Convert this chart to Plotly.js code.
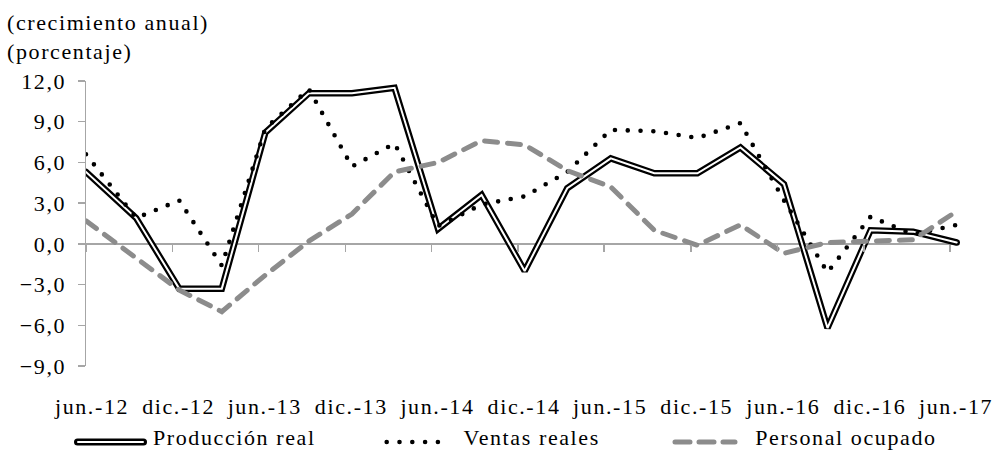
<!DOCTYPE html>
<html><head><meta charset="utf-8">
<script src="https://cdn.plot.ly/plotly-3.0.1.min.js"></script>
<style>
html,body{margin:0;padding:0;background:#fff;}
#chart svg text{letter-spacing:1.6px;}
#chart .scatterlayer .js-line{stroke-linecap:round;}
#chart .shapelayer path{stroke-linecap:round;}
</style></head><body>
<div id="chart" style="width:999px;height:451px"></div>
<script>
// ---- data ----
const periods = ['2012-06-01','2012-09-15','2012-12-15','2013-03-15','2013-06-15','2013-09-15','2013-12-15',
  '2014-03-15','2014-06-15','2014-09-15','2014-12-15','2015-03-15','2015-06-15','2015-09-15','2015-12-15',
  '2016-03-15','2016-06-15','2016-09-15','2016-12-15','2017-03-15','2017-06-15'];
const tickDates = ['2012-06-01','2012-12-01','2013-06-01','2013-12-01','2014-06-01','2014-12-01',
  '2015-06-01','2015-12-01','2016-06-01','2016-12-01','2017-06-01'];
const tickLabels = ['jun.-12','dic.-12','jun.-13','dic.-13','jun.-14','dic.-14','jun.-15','dic.-15','jun.-16','dic.-16','jun.-17'];
const produccion = [5.3, 1.9, -3.3, -3.3, 8.2, 11.1, 11.1, 11.5, 1.1, 3.6, -2.0, 4.1, 6.3, 5.2, 5.2, 7.1, 4.4, -6.2, 1.0, 0.9, 0.1];
const ventas     = [6.6, 1.9, 3.2, -1.6, 8.5, 11.4, 5.7, 7.4, 1.3, 2.9, 3.5, 5.3, 8.4, 8.3, 7.8, 8.9, 3.2, -2.1, 2.0, 0.7, 1.4];
const personal   = [1.7, -1.0, -3.4, -5.0, -2.3, 0.2, 2.2, 5.3, 6.0, 7.6, 7.3, 5.4, 4.2, 1.0, -0.1, 1.4, -0.7, 0.1, 0.2, 0.3, 2.4];
const seriesNames = ['Producción real','Ventas reales','Personal ocupado'];
const yTitleLines = ['(crecimiento anual)','(porcentaje)'];

// ---- layout helpers ----
const FONT = 'Liberation Serif';
const FS = 22;
const W = 999, H = 451, L = 86, R = 39, T = 81, B = 85;
const pw = W - L - R, ph = H - T - B;
const px = x => (x - L) / pw;
const py = y => (H - B - y) / ph;
const GRAY_AX = '#a6a6a6', GRAY_LINE = '#8c8c8c';

const traces = [
  {x: periods, y: produccion, type: 'scatter', mode: 'lines', name: seriesNames[0], showlegend: false,
   line: {color: '#000', width: 6.5}},
  {x: periods, y: produccion, type: 'scatter', mode: 'lines', name: seriesNames[0], showlegend: false,
   line: {color: '#fff', width: 2}},
  {x: periods, y: ventas, type: 'scatter', mode: 'lines', name: seriesNames[1], showlegend: false,
   line: {color: '#000', width: 4.6, dash: '0px,12.8px'}},
  {x: periods, y: personal, type: 'scatter', mode: 'lines', name: seriesNames[2], showlegend: false,
   line: {color: GRAY_LINE, width: 5, dash: '13px,10px'}}
];

const legY = py(442), legTextY = py(438);
const shapes = [
  {type:'line', xref:'paper', yref:'paper', x0:px(77.5), x1:px(143.5), y0:legY, y1:legY, line:{color:'#000', width:7}},
  {type:'line', xref:'paper', yref:'paper', x0:px(78), x1:px(143), y0:legY, y1:legY, line:{color:'#fff', width:2}},
  {type:'line', xref:'paper', yref:'paper', x0:px(386.7), x1:px(450.7), y0:legY, y1:legY, line:{color:'#000', width:4.6, dash:'0px,12.8px'}},
  {type:'line', xref:'paper', yref:'paper', x0:px(675), x1:px(735), y0:legY, y1:legY, line:{color:GRAY_LINE, width:5, dash:'15px,9px'}}
];

const txtFont = {family: FONT, size: FS, color: '#000'};
const annotations = [
  {text: yTitleLines[0], xref:'paper', yref:'paper', x: px(5), y: py(22.5), xanchor:'left', yanchor:'middle', align:'left', showarrow:false, font: txtFont},
  {text: yTitleLines[1], xref:'paper', yref:'paper', x: px(5), y: py(51.5), xanchor:'left', yanchor:'middle', align:'left', showarrow:false, font: txtFont},
  {text: seriesNames[0], xref:'paper', yref:'paper', x: px(234.5), y: legTextY, xanchor:'center', yanchor:'middle', showarrow:false, font: txtFont},
  {text: seriesNames[1], xref:'paper', yref:'paper', x: px(531), y: legTextY, xanchor:'center', yanchor:'middle', showarrow:false, font: txtFont},
  {text: seriesNames[2], xref:'paper', yref:'paper', x: px(846), y: legTextY, xanchor:'center', yanchor:'middle', showarrow:false, font: txtFont}
];

const layout = {
  width: W, height: H, margin: {l: L, r: R, t: T, b: B, pad: 0},
  paper_bgcolor: '#fff', plot_bgcolor: '#fff',
  separators: ',.', showlegend: false,
  font: txtFont,
  xaxis: {type:'date', range:['2012-06-01','2017-06-22'], anchor:'free', position: 9/21,
    showline:false, zeroline:false, showgrid:false,
    ticks:'outside', ticklen:7, tickwidth:1.5, tickcolor:GRAY_AX,
    tickmode:'array', tickvals: tickDates, ticktext: tickLabels,
    ticklabelstandoff: 136, ticklabelshift: 6, tickfont: txtFont, fixedrange:true},
  yaxis: {range:[-9, 12], tick0:0, dtick:3, tickformat:'.1f',
    showline:true, linecolor:GRAY_AX, linewidth:1.5,
    ticks:'outside', ticklen:7, tickwidth:1.5, tickcolor:GRAY_AX,
    showgrid:false, zeroline:true, zerolinecolor:GRAY_AX, zerolinewidth:1.5,
    ticklabelstandoff: 7, tickfont: txtFont, fixedrange:true},
  shapes: shapes,
  annotations: annotations
};

Plotly.newPlot('chart', traces, layout, {staticPlot: true, displayModeBar: false});
</script>
</body></html>
